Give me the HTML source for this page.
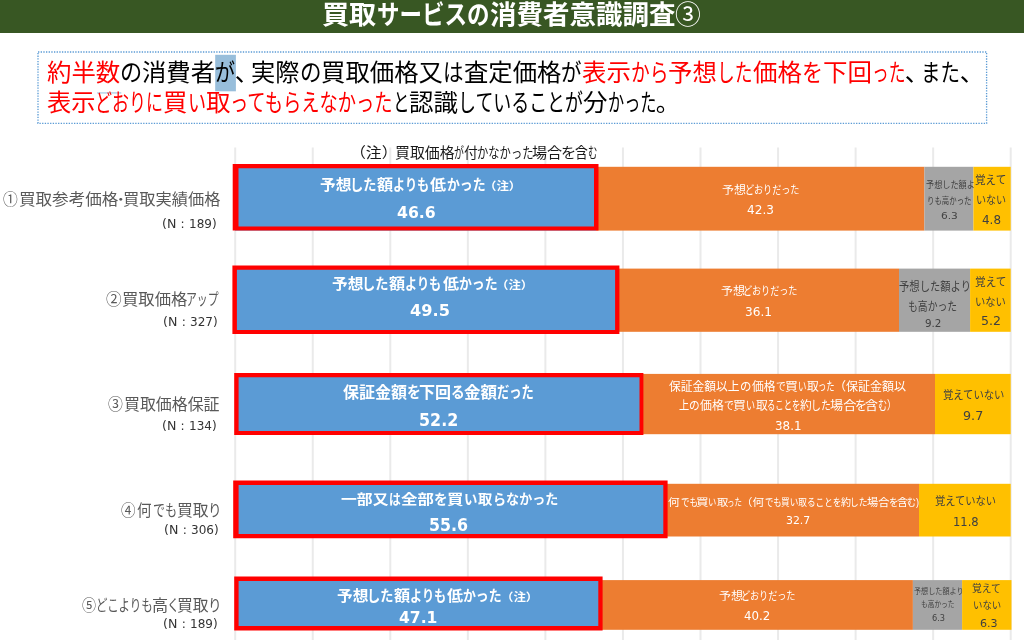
<!DOCTYPE html>
<html lang="ja"><head><meta charset="utf-8"><title>買取サービスの消費者意識調査③</title>
<style>
html,body{margin:0;padding:0;background:#fff;}
body{width:1024px;height:640px;position:relative;overflow:hidden;font-family:"Liberation Sans","Noto Sans CJK JP",sans-serif;}
.a{position:absolute;}
.t{position:absolute;white-space:nowrap;line-height:1;transform-origin:0 0;}
.dv{font-family:"DejaVu Sans","Liberation Sans","Noto Sans CJK JP",sans-serif;}
.w{margin:0;padding:0;}
</style></head><body>
<div class="a" style="left:0;top:0;width:1024px;height:33px;background:#385723"></div>
<svg class="a" style="left:0;top:0" width="1024" height="640" viewBox="0 0 1024 640">
<rect x="38" y="52" width="948.6" height="71.3" fill="none" stroke="#5b9bd5" stroke-width="1.33" stroke-dasharray="1.33 1.33"/>
<rect x="215.2" y="54.8" width="20.7" height="36.5" fill="#98bedb"/>
<rect x="97.1" y="92.1" width="24.2" height="1.6" fill="#b9d8ec"/>
<g stroke="#eaeaea" stroke-width="2"><line x1="235.20" y1="147.5" x2="235.20" y2="640"/><line x1="312.75" y1="147.5" x2="312.75" y2="640"/><line x1="390.30" y1="147.5" x2="390.30" y2="640"/><line x1="467.85" y1="147.5" x2="467.85" y2="640"/><line x1="545.40" y1="147.5" x2="545.40" y2="640"/><line x1="622.95" y1="147.5" x2="622.95" y2="640"/><line x1="700.50" y1="147.5" x2="700.50" y2="640"/><line x1="778.05" y1="147.5" x2="778.05" y2="640"/><line x1="855.60" y1="147.5" x2="855.60" y2="640"/><line x1="933.15" y1="147.5" x2="933.15" y2="640"/><line x1="1010.70" y1="147.5" x2="1010.70" y2="640"/></g>
<rect x="235" y="166.8" width="361.00" height="63.80" fill="#5b9bd5"/><rect x="596" y="166.8" width="328.40" height="63.80" fill="#ed7d31"/><rect x="924.4" y="166.8" width="49.00" height="63.80" fill="#a5a5a5"/><rect x="973.4" y="166.8" width="37.30" height="63.80" fill="#ffc000"/>
<rect x="235" y="268.6" width="384.00" height="63.20" fill="#5b9bd5"/><rect x="619" y="268.6" width="280.00" height="63.20" fill="#ed7d31"/><rect x="899" y="268.6" width="71.10" height="63.20" fill="#a5a5a5"/><rect x="970.1" y="268.6" width="40.60" height="63.20" fill="#ffc000"/>
<rect x="235" y="373.9" width="405.00" height="60.30" fill="#5b9bd5"/><rect x="640" y="373.9" width="295.00" height="60.30" fill="#ed7d31"/><rect x="935" y="373.9" width="75.70" height="60.30" fill="#ffc000"/>
<rect x="235" y="483.8" width="431.50" height="52.70" fill="#5b9bd5"/><rect x="666.5" y="483.8" width="252.50" height="52.70" fill="#ed7d31"/><rect x="919" y="483.8" width="91.70" height="52.70" fill="#ffc000"/>
<rect x="235" y="580.1" width="365.50" height="49.70" fill="#5b9bd5"/><rect x="600.5" y="580.1" width="312.40" height="49.70" fill="#ed7d31"/><rect x="912.9" y="580.1" width="49.20" height="49.70" fill="#a5a5a5"/><rect x="962.1" y="580.1" width="49.40" height="49.70" fill="#ffc000"/>
<path fill="#ff0000" fill-rule="evenodd" d="M232.7 164.0H598.5V230.6H232.7Z M238.5 168.3H594.0V226.4H238.5Z"/><path fill="#ff0000" fill-rule="evenodd" d="M232.4 265.5H619.4V334.0H232.4Z M236.9 269.8H615.1V329.9H236.9Z"/><path fill="#ff0000" fill-rule="evenodd" d="M234.2 373.0H643.4V435.0H234.2Z M238.6 377.3H639.5V431.0H238.6Z"/><path fill="#ff0000" fill-rule="evenodd" d="M233.2 480.4H667.6V538.2H233.2Z M238.6 484.9H663.3V533.9H238.6Z"/><path fill="#ff0000" fill-rule="evenodd" d="M234.2 576.4H602.6V630.4H234.2Z M238.6 580.9H598.3V626.0H238.6Z"/>
</svg>
<p class="w"><span class="t" style="left:46.80px;top:60.90px;font-size:24.4px;color:#ff0000;transform:scaleX(1.0015)">約半数</span><span class="t" style="left:120.10px;top:60.90px;font-size:24.4px;color:#000;transform:scaleX(0.9096)">の</span><span class="t" style="left:142.30px;top:60.90px;font-size:24.4px;color:#000;transform:scaleX(0.9974)">消費者</span><span class="t" style="left:215.30px;top:60.90px;font-size:24.4px;color:#000;transform:scaleX(0.8195)">が</span><span class="t" style="left:234.80px;top:60.90px;font-size:24.4px;color:#000;transform:scaleX(1.0000)">、</span><span class="t" style="left:251.30px;top:60.90px;font-size:24.4px;color:#000;transform:scaleX(0.9939)">実際</span><span class="t" style="left:299.80px;top:60.90px;font-size:24.4px;color:#000;transform:scaleX(0.8809)">の</span><span class="t" style="left:321.30px;top:60.90px;font-size:24.4px;color:#000;transform:scaleX(1.0003)">買取価格又</span><span class="t" style="left:443.30px;top:60.90px;font-size:24.4px;color:#000;transform:scaleX(0.8399)">は</span><span class="t" style="left:463.80px;top:60.90px;font-size:24.4px;color:#000;transform:scaleX(0.9992)">査定価格</span><span class="t" style="left:561.30px;top:60.90px;font-size:24.4px;color:#000;transform:scaleX(0.8399)">が</span><span class="t" style="left:581.80px;top:60.90px;font-size:24.4px;color:#ff0000;transform:scaleX(1.0042)">表示</span><span class="t" style="left:630.80px;top:60.90px;font-size:24.4px;color:#ff0000;transform:scaleX(0.7685)">から</span><span class="t" style="left:668.30px;top:60.90px;font-size:24.4px;color:#ff0000;transform:scaleX(1.0042)">予想</span><span class="t" style="left:717.30px;top:60.90px;font-size:24.4px;color:#ff0000;transform:scaleX(0.7275)">した</span><span class="t" style="left:752.80px;top:60.90px;font-size:24.4px;color:#ff0000;transform:scaleX(1.0042)">価格</span><span class="t" style="left:801.80px;top:60.90px;font-size:24.4px;color:#ff0000;transform:scaleX(0.8604)">を</span><span class="t" style="left:822.80px;top:60.90px;font-size:24.4px;color:#ff0000;transform:scaleX(1.0042)">下回</span><span class="t" style="left:871.80px;top:60.90px;font-size:24.4px;color:#ff0000;transform:scaleX(0.6865)">った</span><span class="t" style="left:904.80px;top:60.90px;font-size:24.4px;color:#000;transform:scaleX(1.0000)">、</span><span class="t" style="left:921.30px;top:60.90px;font-size:24.4px;color:#000;transform:scaleX(0.7992)">また</span><span class="t" style="left:959.80px;top:60.90px;font-size:24.4px;color:#000;transform:scaleX(1.0000)">、</span><span class="t" style="left:46.80px;top:91.10px;font-size:24.4px;color:#ff0000;transform:scaleX(0.9939)">表示</span><span class="t" style="left:95.30px;top:91.10px;font-size:24.4px;color:#ff0000;transform:scaleX(0.6969)">どおりに</span><span class="t" style="left:163.30px;top:91.10px;font-size:24.4px;color:#ff0000;transform:scaleX(0.9997)">買</span><span class="t" style="left:187.70px;top:91.10px;font-size:24.4px;color:#ff0000;transform:scaleX(0.7416)">い</span><span class="t" style="left:205.80px;top:91.10px;font-size:24.4px;color:#ff0000;transform:scaleX(1.0038)">取</span><span class="t" style="left:230.30px;top:91.10px;font-size:24.4px;color:#ff0000;transform:scaleX(0.7486)">ってもらえなかった</span><span class="t" style="left:392.80px;top:91.10px;font-size:24.4px;color:#000;transform:scaleX(0.6761)">と</span><span class="t" style="left:409.30px;top:91.10px;font-size:24.4px;color:#000;transform:scaleX(1.0042)">認識</span><span class="t" style="left:458.30px;top:91.10px;font-size:24.4px;color:#000;transform:scaleX(0.7352)">していることが</span><span class="t" style="left:583.30px;top:91.10px;font-size:24.4px;color:#000;transform:scaleX(1.0038)">分</span><span class="t" style="left:607.80px;top:91.10px;font-size:24.4px;color:#000;transform:scaleX(0.6627)">かった</span><span class="t" style="left:655.80px;top:91.10px;font-size:24.4px;color:#000;transform:scaleX(1.0000)">。</span></p>
<div class="w"><span class="t" style="left:322.38px;top:2.10px;font-size:26.5px;color:#fff;font-weight:700;transform:scaleX(1.0235)">買取</span><span class="t" style="left:376.65px;top:2.10px;font-size:26.5px;color:#fff;font-weight:700;transform:scaleX(0.8492)">サービスの</span><span class="t" style="left:489.80px;top:2.10px;font-size:26.5px;color:#fff;font-weight:700;transform:scaleX(0.9995)">消費者意識調査</span><span class="t" style="left:675.02px;top:1.70px;font-size:26.5px;color:#fff;transform:scaleX(0.9760)">③</span></div>
<div class="w"><span class="t" style="left:350.49px;top:146.00px;font-size:14.7px;color:#1a1a1a;transform:scaleX(1.0800)">（注）</span><span class="t" style="left:395.18px;top:146.00px;font-size:14.7px;color:#1a1a1a;transform:scaleX(1.0158)">買取価格</span><span class="t" style="left:454.32px;top:146.00px;font-size:14.7px;color:#1a1a1a;transform:scaleX(0.6769)">が</span><span class="t" style="left:463.86px;top:146.00px;font-size:14.7px;color:#1a1a1a;transform:scaleX(0.9385)">付</span><span class="t" style="left:477.43px;top:146.00px;font-size:14.7px;color:#1a1a1a;transform:scaleX(0.7690)">かなかった</span><span class="t" style="left:532.27px;top:146.00px;font-size:14.7px;color:#1a1a1a;transform:scaleX(1.0250)">場合</span><span class="t" style="left:561.23px;top:146.00px;font-size:14.7px;color:#1a1a1a;transform:scaleX(1.0364)">を</span><span class="t" style="left:575.12px;top:146.00px;font-size:14.7px;color:#1a1a1a;transform:scaleX(0.8769)">含</span><span class="t" style="left:588.07px;top:146.00px;font-size:14.7px;color:#1a1a1a;transform:scaleX(0.6333)">む</span></div>
<div class="w"><span class="t" style="left:2.80px;top:191.95px;font-size:16px;color:#595959;transform:scaleX(0.9250)">①</span><span class="t" style="left:18.86px;top:191.95px;font-size:16px;color:#595959;transform:scaleX(1.0351)">買取参考価格</span><span class="t" style="left:115.90px;top:191.95px;font-size:16px;color:#595959;transform:scaleX(1.2000)">･</span><span class="t" style="left:122.69px;top:191.95px;font-size:16px;color:#595959;transform:scaleX(1.0149)">買取実績価格</span></div>
<div class="w"><span class="t dv" style="left:161.87px;top:218.15px;font-size:12.2px;color:#333;transform:scaleX(1.0333)">(N</span><span class="t dv" style="left:180.40px;top:218.15px;font-size:12.2px;color:#333;transform:scaleX(1.0000)">:</span><span class="t dv" style="left:188.71px;top:218.15px;font-size:12.2px;color:#333;transform:scaleX(0.9885)">189)</span></div>
<div class="w"><span class="t" style="left:105.80px;top:292.45px;font-size:16px;color:#595959;transform:scaleX(0.9750)">②</span><span class="t" style="left:121.98px;top:292.45px;font-size:16px;color:#595959;transform:scaleX(1.0202)">買取価格</span><span class="t" style="left:186.44px;top:292.45px;font-size:16px;color:#595959;transform:scaleX(0.6783)">アップ</span></div>
<div class="w"><span class="t dv" style="left:163.17px;top:316.15px;font-size:12.2px;color:#333;transform:scaleX(1.0333)">(N</span><span class="t dv" style="left:181.70px;top:316.15px;font-size:12.2px;color:#333;transform:scaleX(1.0000)">:</span><span class="t dv" style="left:190.01px;top:316.15px;font-size:12.2px;color:#333;transform:scaleX(0.9885)">327)</span></div>
<div class="w"><span class="t" style="left:108.10px;top:396.85px;font-size:16px;color:#595959;transform:scaleX(0.9313)">③</span><span class="t" style="left:123.51px;top:396.85px;font-size:16px;color:#595959;transform:scaleX(0.9947)">買取価格保証</span></div>
<div class="w"><span class="t dv" style="left:161.87px;top:420.15px;font-size:12.2px;color:#333;transform:scaleX(1.0333)">(N</span><span class="t dv" style="left:180.40px;top:420.15px;font-size:12.2px;color:#333;transform:scaleX(1.0000)">:</span><span class="t dv" style="left:188.71px;top:420.15px;font-size:12.2px;color:#333;transform:scaleX(0.9885)">134)</span></div>
<div class="w"><span class="t" style="left:121.00px;top:503.10px;font-size:16px;color:#595959;transform:scaleX(0.9062)">④</span><span class="t" style="left:136.59px;top:503.10px;font-size:16px;color:#595959;transform:scaleX(0.9067)">何</span><span class="t" style="left:152.64px;top:503.10px;font-size:16px;color:#595959;transform:scaleX(0.7552)">でも</span><span class="t" style="left:176.71px;top:503.10px;font-size:16px;color:#595959;transform:scaleX(0.9867)">買取</span><span class="t" style="left:207.95px;top:503.10px;font-size:16px;color:#595959;transform:scaleX(0.8500)">り</span></div>
<div class="w"><span class="t dv" style="left:164.27px;top:524.10px;font-size:12.2px;color:#333;transform:scaleX(1.0333)">(N</span><span class="t dv" style="left:182.80px;top:524.10px;font-size:12.2px;color:#333;transform:scaleX(1.0000)">:</span><span class="t dv" style="left:191.11px;top:524.10px;font-size:12.2px;color:#333;transform:scaleX(0.9885)">306)</span></div>
<div class="w"><span class="t" style="left:82.30px;top:598.00px;font-size:16px;color:#595959;transform:scaleX(0.8813)">⑤</span><span class="t" style="left:95.85px;top:598.00px;font-size:16px;color:#595959;transform:scaleX(0.7176)">どこよりも</span><span class="t" style="left:152.39px;top:598.00px;font-size:16px;color:#595959;transform:scaleX(1.0071)">高</span><span class="t" style="left:167.44px;top:598.00px;font-size:16px;color:#595959;transform:scaleX(0.7875)">く</span><span class="t" style="left:176.71px;top:598.00px;font-size:16px;color:#595959;transform:scaleX(0.9867)">買取</span><span class="t" style="left:207.95px;top:598.00px;font-size:16px;color:#595959;transform:scaleX(0.8500)">り</span></div>
<div class="w"><span class="t dv" style="left:163.17px;top:617.75px;font-size:12.2px;color:#333;transform:scaleX(1.0333)">(N</span><span class="t dv" style="left:181.70px;top:617.75px;font-size:12.2px;color:#333;transform:scaleX(1.0000)">:</span><span class="t dv" style="left:190.01px;top:617.75px;font-size:12.2px;color:#333;transform:scaleX(0.9885)">189)</span></div>
<div class="w"><span class="t" style="left:319.75px;top:176.80px;font-size:15px;color:#fff;font-weight:700;transform:scaleX(1.0500)">予想</span><span class="t" style="left:349.96px;top:176.80px;font-size:15px;color:#fff;font-weight:700;transform:scaleX(0.8808)">した</span><span class="t" style="left:376.80px;top:176.80px;font-size:15px;color:#fff;font-weight:700;transform:scaleX(1.0786)">額</span><span class="t" style="left:392.98px;top:176.80px;font-size:15px;color:#fff;font-weight:700;transform:scaleX(0.8098)">よりも</span><span class="t" style="left:430.30px;top:176.80px;font-size:15px;color:#fff;font-weight:700;transform:scaleX(1.0667)">低</span><span class="t" style="left:446.64px;top:176.80px;font-size:15px;color:#fff;font-weight:700;transform:scaleX(0.8581)">かった</span><span class="t" style="left:484.15px;top:180.95px;font-size:11px;color:#fff;font-weight:700;transform:scaleX(1.1300)">（注）</span></div>
<div class="w"><span class="t dv" style="left:396.52px;top:204.70px;font-size:16px;color:#fff;font-weight:700;transform:scaleX(0.9816)">46.6</span></div>
<div class="w"><span class="t" style="left:722.36px;top:184.72px;font-size:11.5px;color:#fff;transform:scaleX(1.0429)">予想</span><span class="t" style="left:744.52px;top:184.72px;font-size:11.5px;color:#fff;transform:scaleX(0.7879)">どおりだった</span></div>
<div class="w"><span class="t dv" style="left:746.90px;top:204.40px;font-size:12px;color:#fff;transform:scaleX(1.0077)">42.3</span></div>
<div class="w"><span class="t" style="left:926.00px;top:181.30px;font-size:9.3px;color:#404040;transform:scaleX(0.8759)">予想した額よ</span><span class="t" style="left:926.91px;top:197.25px;font-size:9.3px;color:#404040;transform:scaleX(0.7972)">りも高かった</span></div>
<div class="w"><span class="t dv" style="left:941.12px;top:211.25px;font-size:9.3px;color:#404040;transform:scaleX(1.1346)">6.3</span></div>
<div class="w"><span class="t" style="left:975.33px;top:175.20px;font-size:11.5px;color:#404040;transform:scaleX(0.9219)">覚えて</span><span class="t" style="left:976.03px;top:194.68px;font-size:11.5px;color:#404040;transform:scaleX(0.8742)">いない</span></div>
<div class="w"><span class="t dv" style="left:981.60px;top:214.30px;font-size:12px;color:#404040;transform:scaleX(0.9944)">4.8</span></div>
<div class="w"><span class="t" style="left:332.05px;top:276.15px;font-size:15px;color:#fff;font-weight:700;transform:scaleX(1.0500)">予想</span><span class="t" style="left:362.26px;top:276.15px;font-size:15px;color:#fff;font-weight:700;transform:scaleX(0.8808)">した</span><span class="t" style="left:389.10px;top:276.15px;font-size:15px;color:#fff;font-weight:700;transform:scaleX(1.0786)">額</span><span class="t" style="left:405.28px;top:276.15px;font-size:15px;color:#fff;font-weight:700;transform:scaleX(0.8098)">よりも</span><span class="t" style="left:442.60px;top:276.15px;font-size:15px;color:#fff;font-weight:700;transform:scaleX(1.0667)">低</span><span class="t" style="left:458.94px;top:276.15px;font-size:15px;color:#fff;font-weight:700;transform:scaleX(0.8581)">かった</span><span class="t" style="left:496.46px;top:280.30px;font-size:11px;color:#fff;font-weight:700;transform:scaleX(1.1300)">（注）</span></div>
<div class="w"><span class="t dv" style="left:409.99px;top:303.00px;font-size:16px;color:#fff;font-weight:700;transform:scaleX(1.0108)">49.5</span></div>
<div class="w"><span class="t" style="left:720.56px;top:286.05px;font-size:11.5px;color:#fff;transform:scaleX(1.0429)">予想</span><span class="t" style="left:742.72px;top:286.05px;font-size:11.5px;color:#fff;transform:scaleX(0.7879)">どおりだった</span></div>
<div class="w"><span class="t dv" style="left:744.79px;top:305.55px;font-size:12px;color:#fff;transform:scaleX(1.0120)">36.1</span></div>
<div class="w"><span class="t" style="left:898.64px;top:281.38px;font-size:12px;color:#404040;transform:scaleX(0.8594)">予想した額より</span><span class="t" style="left:908.43px;top:300.75px;font-size:12px;color:#404040;transform:scaleX(0.8190)">も高かった</span></div>
<div class="w"><span class="t dv" style="left:924.77px;top:318.12px;font-size:10.5px;color:#404040;transform:scaleX(0.9833)">9.2</span></div>
<div class="w"><span class="t" style="left:974.58px;top:276.75px;font-size:11.5px;color:#404040;transform:scaleX(0.9250)">覚えて</span><span class="t" style="left:975.11px;top:296.68px;font-size:11.5px;color:#404040;transform:scaleX(0.8939)">いない</span></div>
<div class="w"><span class="t dv" style="left:980.71px;top:315.25px;font-size:12px;color:#404040;transform:scaleX(1.0441)">5.2</span></div>
<div class="w"><span class="t" style="left:342.80px;top:385.20px;font-size:16px;color:#fff;font-weight:700;transform:scaleX(0.9984)">保証金額</span><span class="t" style="left:406.84px;top:385.20px;font-size:16px;color:#fff;font-weight:700;transform:scaleX(0.8615)">を</span><span class="t" style="left:419.30px;top:385.20px;font-size:16px;color:#fff;font-weight:700;transform:scaleX(1.0033)">下回</span><span class="t" style="left:450.68px;top:385.20px;font-size:16px;color:#fff;font-weight:700;transform:scaleX(0.8583)">る</span><span class="t" style="left:463.67px;top:385.20px;font-size:16px;color:#fff;font-weight:700;transform:scaleX(1.0333)">金額</span><span class="t" style="left:496.53px;top:385.20px;font-size:16px;color:#fff;font-weight:700;transform:scaleX(0.7674)">だった</span></div>
<div class="w"><span class="t dv" style="left:419.16px;top:411.55px;font-size:17px;color:#fff;font-weight:700;transform:scaleX(0.9359)">52.2</span></div>
<div class="w"><span class="t" style="left:669.10px;top:380.70px;font-size:12px;color:#fff;transform:scaleX(0.9778)">保証金額以上</span><span class="t" style="left:739.85px;top:380.70px;font-size:12px;color:#fff;transform:scaleX(0.9500)">の</span><span class="t" style="left:751.60px;top:380.70px;font-size:12px;color:#fff;transform:scaleX(0.9826)">価格</span><span class="t" style="left:775.58px;top:380.70px;font-size:12px;color:#fff;transform:scaleX(0.8200)">で</span><span class="t" style="left:784.73px;top:380.70px;font-size:12px;color:#fff;transform:scaleX(1.0700)">買</span><span class="t" style="left:797.70px;top:380.70px;font-size:12px;color:#fff;transform:scaleX(0.7000)">い</span><span class="t" style="left:806.70px;top:380.70px;font-size:12px;color:#fff;transform:scaleX(0.9818)">取</span><span class="t" style="left:818.01px;top:380.70px;font-size:12px;color:#fff;transform:scaleX(0.6952)">った</span><span class="t" style="left:834.19px;top:380.70px;font-size:12px;color:#fff;transform:scaleX(1.0016)">（保証金額以</span><span class="t" style="left:678.60px;top:400.40px;font-size:12px;color:#fff;transform:scaleX(0.8500)">上</span><span class="t" style="left:689.11px;top:400.40px;font-size:12px;color:#fff;transform:scaleX(0.8900)">の</span><span class="t" style="left:700.20px;top:400.40px;font-size:12px;color:#fff;transform:scaleX(0.9913)">価格</span><span class="t" style="left:724.07px;top:400.40px;font-size:12px;color:#fff;transform:scaleX(0.8300)">で</span><span class="t" style="left:733.43px;top:400.40px;font-size:12px;color:#fff;transform:scaleX(1.0700)">買</span><span class="t" style="left:746.44px;top:400.40px;font-size:12px;color:#fff;transform:scaleX(0.7600)">い</span><span class="t" style="left:756.00px;top:400.40px;font-size:12px;color:#fff;transform:scaleX(0.9818)">取</span><span class="t" style="left:767.01px;top:400.40px;font-size:12px;color:#fff;transform:scaleX(0.6955)">ることを</span><span class="t" style="left:800.30px;top:400.40px;font-size:12px;color:#fff;transform:scaleX(0.9818)">約</span><span class="t" style="left:810.52px;top:400.40px;font-size:12px;color:#fff;transform:scaleX(0.8250)">した</span><span class="t" style="left:829.70px;top:400.40px;font-size:12px;color:#fff;transform:scaleX(1.0955)">場合</span><span class="t" style="left:855.21px;top:400.40px;font-size:12px;color:#fff;transform:scaleX(0.9889)">を</span><span class="t" style="left:865.22px;top:400.40px;font-size:12px;color:#fff;transform:scaleX(1.0800)">含</span><span class="t" style="left:877.64px;top:400.40px;font-size:12px;color:#fff;transform:scaleX(0.7600)">む）</span></div>
<div class="w"><span class="t dv" style="left:774.59px;top:418.55px;font-size:13px;color:#fff;transform:scaleX(0.9148)">38.1</span></div>
<div class="w"><span class="t" style="left:942.50px;top:390.10px;font-size:11.5px;color:#404040;transform:scaleX(0.8970)">覚えていない</span></div>
<div class="w"><span class="t dv" style="left:962.59px;top:410.80px;font-size:11.5px;color:#404040;transform:scaleX(1.1062)">9.7</span></div>
<div class="w"><span class="t" style="left:340.80px;top:492.58px;font-size:16px;color:#fff;font-weight:700;transform:scale(0.9894,0.860)">一部又</span><span class="t" style="left:389.26px;top:492.58px;font-size:16px;color:#fff;font-weight:700;transform:scale(0.7357,0.860)">は</span><span class="t" style="left:401.27px;top:492.58px;font-size:16px;color:#fff;font-weight:700;transform:scale(1.0267,0.860)">全部</span><span class="t" style="left:434.25px;top:492.58px;font-size:16px;color:#fff;font-weight:700;transform:scale(0.8462,0.860)">を</span><span class="t" style="left:447.17px;top:492.58px;font-size:16px;color:#fff;font-weight:700;transform:scale(1.0286,0.860)">買</span><span class="t" style="left:463.62px;top:492.58px;font-size:16px;color:#fff;font-weight:700;transform:scale(0.8385,0.860)">い</span><span class="t" style="left:478.30px;top:492.58px;font-size:16px;color:#fff;font-weight:700;transform:scale(0.8938,0.860)">取</span><span class="t" style="left:493.07px;top:492.58px;font-size:16px;color:#fff;font-weight:700;transform:scale(0.8169,0.860)">らなかった</span></div>
<div class="w"><span class="t dv" style="left:429.37px;top:517.20px;font-size:17px;color:#fff;font-weight:700;transform:scaleX(0.9325)">55.6</span></div>
<div class="w"><span class="t" style="left:668.34px;top:496.88px;font-size:12px;color:#fff;transform:scale(0.9636,0.870)">何</span><span class="t" style="left:680.79px;top:496.88px;font-size:12px;color:#fff;transform:scale(0.7095,0.870)">でも</span><span class="t" style="left:696.25px;top:496.88px;font-size:12px;color:#fff;transform:scale(1.0500,0.870)">買</span><span class="t" style="left:708.41px;top:496.88px;font-size:12px;color:#fff;transform:scale(0.6900,0.870)">い</span><span class="t" style="left:717.10px;top:496.88px;font-size:12px;color:#fff;transform:scale(0.9455,0.870)">取</span><span class="t" style="left:727.46px;top:496.88px;font-size:12px;color:#fff;transform:scale(0.6190,0.870)">った</span><span class="t" style="left:741.35px;top:496.88px;font-size:12px;color:#fff;transform:scale(0.9562,0.870)">（何</span><span class="t" style="left:764.90px;top:496.88px;font-size:12px;color:#fff;transform:scale(0.6952,0.870)">でも</span><span class="t" style="left:780.68px;top:496.88px;font-size:12px;color:#fff;transform:scale(0.7198,0.870)">買い取ることを</span><span class="t" style="left:840.90px;top:496.88px;font-size:12px;color:#fff;transform:scale(0.8364,0.870)">約</span><span class="t" style="left:849.73px;top:496.88px;font-size:12px;color:#fff;transform:scale(0.7250,0.870)">した</span><span class="t" style="left:866.76px;top:496.88px;font-size:12px;color:#fff;transform:scale(0.9364,0.870)">場合</span><span class="t" style="left:888.81px;top:496.88px;font-size:12px;color:#fff;transform:scale(0.7889,0.870)">を</span><span class="t" style="left:896.68px;top:496.88px;font-size:12px;color:#fff;transform:scale(0.9200,0.870)">含</span><span class="t" style="left:907.35px;top:496.88px;font-size:12px;color:#fff;transform:scale(0.7500,0.870)">む)</span></div>
<div class="w"><span class="t dv" style="left:785.98px;top:516.00px;font-size:10.7px;color:#fff;transform:scaleX(1.0182)">32.7</span></div>
<div class="w"><span class="t" style="left:934.61px;top:496.30px;font-size:11.5px;color:#404040;transform:scaleX(0.8925)">覚えていない</span></div>
<div class="w"><span class="t dv" style="left:952.75px;top:516.65px;font-size:11.5px;color:#404040;transform:scaleX(1.0021)">11.8</span></div>
<div class="w"><span class="t" style="left:336.55px;top:587.60px;font-size:15px;color:#fff;font-weight:700;transform:scaleX(1.0500)">予想</span><span class="t" style="left:366.76px;top:587.60px;font-size:15px;color:#fff;font-weight:700;transform:scaleX(0.8808)">した</span><span class="t" style="left:393.60px;top:587.60px;font-size:15px;color:#fff;font-weight:700;transform:scaleX(1.0786)">額</span><span class="t" style="left:409.78px;top:587.60px;font-size:15px;color:#fff;font-weight:700;transform:scaleX(0.8098)">よりも</span><span class="t" style="left:447.10px;top:587.60px;font-size:15px;color:#fff;font-weight:700;transform:scaleX(1.0667)">低</span><span class="t" style="left:463.44px;top:587.60px;font-size:15px;color:#fff;font-weight:700;transform:scaleX(0.8581)">かった</span><span class="t" style="left:500.96px;top:591.75px;font-size:11px;color:#fff;font-weight:700;transform:scaleX(1.1300)">（注）</span></div>
<div class="w"><span class="t dv" style="left:398.73px;top:610.45px;font-size:16px;color:#fff;font-weight:700;transform:scaleX(0.9730)">47.1</span></div>
<div class="w"><span class="t" style="left:718.96px;top:591.40px;font-size:11.5px;color:#fff;transform:scaleX(1.0429)">予想</span><span class="t" style="left:741.12px;top:591.40px;font-size:11.5px;color:#fff;transform:scaleX(0.7879)">どおりだった</span></div>
<div class="w"><span class="t dv" style="left:744.00px;top:609.85px;font-size:12px;color:#fff;transform:scaleX(0.9808)">40.2</span></div>
<div class="w"><span class="t" style="left:914.11px;top:588.05px;font-size:8px;color:#404040;transform:scaleX(0.8868)">予想した額より</span><span class="t" style="left:921.46px;top:600.90px;font-size:8px;color:#404040;transform:scaleX(0.8368)">も高かった</span></div>
<div class="w"><span class="t dv" style="left:932.20px;top:615.20px;font-size:8px;color:#404040;transform:scaleX(1.0250)">6.3</span></div>
<div class="w"><span class="t" style="left:972.22px;top:583.65px;font-size:10px;color:#404040;transform:scaleX(0.9778)">覚えて</span><span class="t" style="left:972.86px;top:600.90px;font-size:10px;color:#404040;transform:scaleX(0.9429)">いない</span></div>
<div class="w"><span class="t dv" style="left:979.59px;top:617.85px;font-size:11px;color:#404040;transform:scaleX(1.0063)">6.3</span></div>
</body></html>
